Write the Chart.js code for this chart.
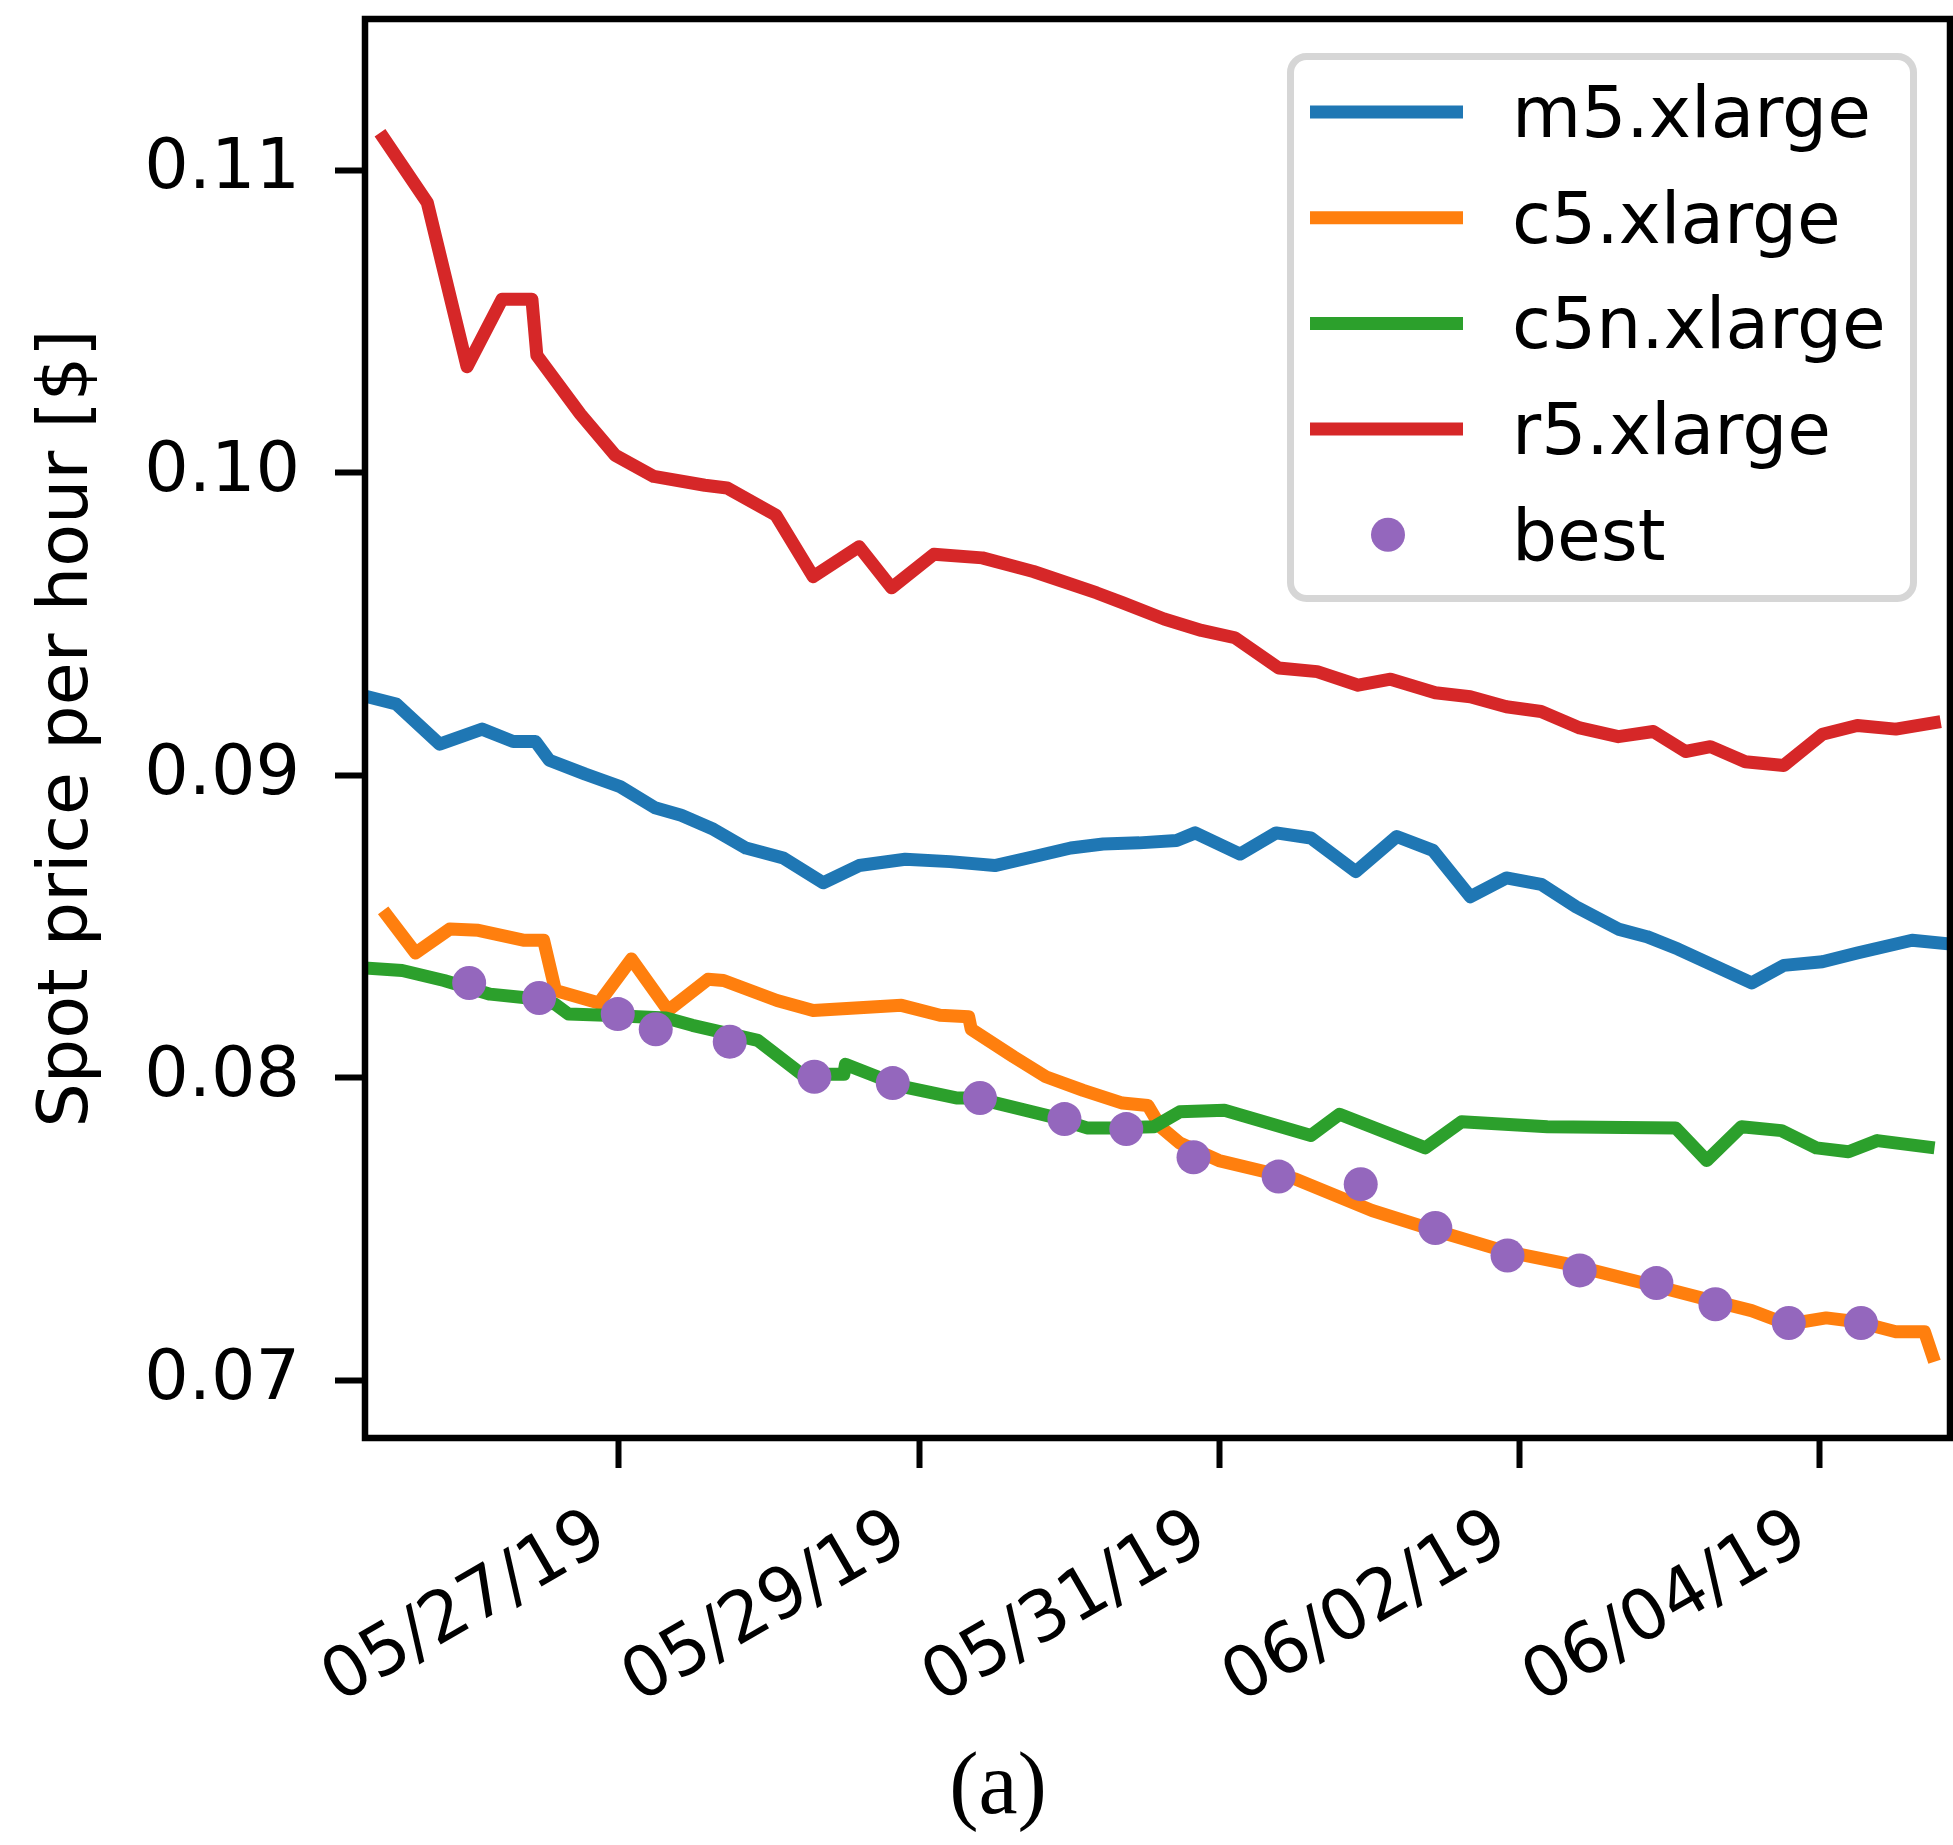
<!DOCTYPE html>
<html>
<head>
<meta charset="utf-8">
<title>Spot price per hour</title>
<script src="https://cdn.jsdelivr.net/npm/chart.js@4.4.0/dist/chart.umd.min.js"></script>
<style>
  html, body { margin: 0; padding: 0; background: #fff; overflow: hidden; }
  #wrap { width: 1953px; height: 1845px; }
</style>
</head>
<body>
<div id="wrap"><canvas id="spot" width="1953" height="1845"></canvas></div>
<script>
// x values are days since 05/27/19 00:00, y values are $/hour
const tickDays = [0, 2, 4, 6, 8];
const tickDates = ['05/27/19', '05/29/19', '05/31/19', '06/02/19', '06/04/19'];
const priceTicks = [0.07, 0.08, 0.09, 0.10, 0.11];

const m5Days = [-1.70, -1.484, -1.194, -0.912, -0.705, -0.556, -0.464, -0.224, 0.008, 0.240, 0.415, 0.630, 0.846, 1.095, 1.360, 1.600, 1.907, 2.206, 2.504, 2.761, 3.010, 3.226, 3.466, 3.715, 3.839, 4.138, 4.378, 4.610, 4.909, 5.182, 5.423, 5.672, 5.912, 6.144, 6.376, 6.658, 6.849, 7.056, 7.546, 7.761, 8.018, 8.250, 8.615, 8.88];
const m5Price = [0.09263, 0.09236, 0.09103, 0.09153, 0.09112, 0.09112, 0.09050, 0.09004, 0.08963, 0.08893, 0.08868, 0.08822, 0.08760, 0.08727, 0.08645, 0.08702, 0.08723, 0.08715, 0.08702, 0.08731, 0.08760, 0.08773, 0.08777, 0.08785, 0.08810, 0.08740, 0.08810, 0.08793, 0.08682, 0.08798, 0.08752, 0.08599, 0.08661, 0.08640, 0.08566, 0.08492, 0.08467, 0.08426, 0.08314, 0.08372, 0.08384, 0.08413, 0.08455, 0.08442];

const c5Days = [-1.571, -1.355, -1.128, -0.937, -0.630, -0.502, -0.423, -0.133, 0.083, 0.328, 0.593, 0.697, 1.053, 1.294, 1.882, 2.139, 2.330, 2.347, 2.629, 2.844, 3.093, 3.354, 3.524, 3.607, 3.736, 3.997, 4.502, 5.017, 5.439, 5.912, 6.294, 6.891, 7.313, 7.546, 7.786, 8.043, 8.250, 8.507, 8.698, 8.765];
const c5Price = [0.08554, 0.08413, 0.08492, 0.08488, 0.08455, 0.08455, 0.08289, 0.08248, 0.08393, 0.08223, 0.08326, 0.08322, 0.08256, 0.08223, 0.08240, 0.08207, 0.08202, 0.08161, 0.08070, 0.08004, 0.07959, 0.07917, 0.07909, 0.07839, 0.07785, 0.07727, 0.07667, 0.07562, 0.07496, 0.07426, 0.07388, 0.07314, 0.07260, 0.07231, 0.07186, 0.07207, 0.07194, 0.07161, 0.07161, 0.07062];

const c5nDays = [-1.70, -1.444, -1.165, -0.859, -0.605, -0.426, -0.336, -0.093, 0.313, 0.489, 0.925, 1.219, 1.498, 1.509, 1.891, 2.247, 2.371, 2.882, 3.118, 3.292, 3.566, 3.736, 4.034, 4.610, 4.801, 5.373, 5.614, 6.186, 7.040, 7.247, 7.479, 7.745, 7.977, 8.192, 8.383, 8.765];
const c5nPrice = [0.08364, 0.08355, 0.08322, 0.08277, 0.08264, 0.08244, 0.08211, 0.08207, 0.08198, 0.08174, 0.08124, 0.08012, 0.08012, 0.08045, 0.07971, 0.07934, 0.07934, 0.07872, 0.07835, 0.07835, 0.07839, 0.07888, 0.07893, 0.07810, 0.07880, 0.07769, 0.07855, 0.07839, 0.07835, 0.07727, 0.07839, 0.07826, 0.07769, 0.07756, 0.07793, 0.07769];

const r5Days = [-1.592, -1.277, -1.012, -0.779, -0.580, -0.547, -0.257, -0.025, 0.232, 0.572, 0.721, 1.045, 1.294, 1.600, 1.816, 2.098, 2.421, 2.761, 3.184, 3.358, 3.632, 3.881, 4.104, 4.395, 4.652, 4.925, 5.141, 5.439, 5.672, 5.912, 6.144, 6.401, 6.658, 6.891, 7.106, 7.272, 7.504, 7.761, 8.018, 8.250, 8.507, 8.806];
const r5Price = [0.11124, 0.10893, 0.10351, 0.10574, 0.10574, 0.10388, 0.10194, 0.10058, 0.09988, 0.09959, 0.09950, 0.09860, 0.09657, 0.09756, 0.09620, 0.09731, 0.09719, 0.09674, 0.09603, 0.09570, 0.09517, 0.09479, 0.09455, 0.09355, 0.09343, 0.09298, 0.09318, 0.09273, 0.09260, 0.09227, 0.09211, 0.09157, 0.09128, 0.09145, 0.09079, 0.09095, 0.09045, 0.09033, 0.09136, 0.09165, 0.09153, 0.09178];

// cheapest instance picked at each decision time
const bestDays = [-0.998, -0.532, -0.008, 0.245, 0.738, 1.302, 1.824, 2.405, 2.968, 3.380, 3.828, 4.395, 4.942, 5.439, 5.920, 6.401, 6.912, 7.305, 7.794, 8.275];
const bestPrice = [0.08314, 0.08264, 0.08211, 0.08161, 0.08120, 0.08004, 0.07983, 0.07934, 0.07864, 0.07831, 0.07738, 0.07674, 0.07649, 0.07504, 0.07413, 0.07364, 0.07322, 0.07252, 0.07190, 0.07190];

const FONT = "'DejaVu Sans', sans-serif";
Chart.defaults.font.family = FONT;
Chart.defaults.color = '#000';

const pts = (xs, ys) => xs.map((x, i) => ({ x: x, y: ys[i] }));

function priceLine(label, days, price, color, order) {
  return {
    label: label,
    data: pts(days, price),
    borderColor: color,
    backgroundColor: color,
    borderWidth: 13,
    borderJoinStyle: 'round',
    borderCapStyle: 'butt',
    pointRadius: 0,
    tension: 0,
    clip: 0,
    order: order
  };
}

const datasets = [
  priceLine('m5.xlarge', m5Days, m5Price, '#1f77b4', 4),
  priceLine('c5.xlarge', c5Days, c5Price, '#ff7f0e', 3),
  priceLine('c5n.xlarge', c5nDays, c5nPrice, '#2ca02c', 2),
  priceLine('r5.xlarge', r5Days, r5Price, '#d62728', 1),
  {
    label: 'best',
    data: pts(bestDays, bestPrice),
    showLine: false,
    pointRadius: 17,
    pointBorderWidth: 0,
    pointBackgroundColor: '#9467bd',
    backgroundColor: '#9467bd',
    order: 0
  }
];

// Axes frame, boxed legend and the "(a)" caption
const decorations = {
  id: 'decorations',
  afterLayout(chart) {
    // plot box runs to 3px from the right edge of the canvas
    const a = chart.chartArea;
    const x = chart.scales.x;
    const right = chart.width - 3;
    a.right = right;
    a.width = right - a.left;
    x.right = right;
    x.width = right - x.left;
    x.configure();
  },
  afterDatasetsDraw(chart) {
    const ctx = chart.ctx;
    const a = chart.chartArea;
    ctx.save();

    ctx.strokeStyle = '#000';
    ctx.lineWidth = 6.5;
    ctx.strokeRect(a.left, a.top, a.right - a.left, a.bottom - a.top);

    // legend box
    const bx = a.right - 663, by = a.top + 34, bw = 630, bh = 549;
    ctx.beginPath();
    ctx.roundRect(bx + 3.5, by + 3.5, bw - 7, bh - 7, 16);
    ctx.fillStyle = 'rgba(255,255,255,0.8)';
    ctx.fill();
    ctx.lineWidth = 7;
    ctx.strokeStyle = '#d6d6d6';
    ctx.stroke();

    ctx.font = '71px ' + FONT;
    ctx.textAlign = 'left';
    ctx.textBaseline = 'alphabetic';
    chart.data.datasets.forEach((ds, i) => {
      const y = by + 59 + i * 105.7;
      if (ds.showLine === false) {
        ctx.beginPath();
        ctx.arc(bx + 101, y, 17, 0, Math.PI * 2);
        ctx.fillStyle = ds.pointBackgroundColor;
        ctx.fill();
      } else {
        ctx.beginPath();
        ctx.moveTo(bx + 23, y);
        ctx.lineTo(bx + 176, y);
        ctx.lineWidth = ds.borderWidth;
        ctx.lineCap = 'butt';
        ctx.strokeStyle = ds.borderColor;
        ctx.stroke();
      }
      ctx.fillStyle = '#000';
      ctx.fillText(ds.label, bx + 225, y + 25);
    });
    ctx.restore();
  },
  afterDraw(chart) {
    const ctx = chart.ctx;
    ctx.save();
    ctx.fillStyle = '#000';
    ctx.font = "88px 'Liberation Serif', 'Times New Roman', serif";
    ctx.textAlign = 'center';
    ctx.textBaseline = 'alphabetic';
    ctx.fillText('(a)', 998, 1813);
    ctx.restore();
  }
};

// keep the plot box at a fixed place: no extra room for label overhang
function noOverhang(scale) {
  scale.paddingTop = 0;
  scale.paddingBottom = 0;
  scale.paddingLeft = 0;
  scale.paddingRight = 0;
  scale._calculatePadding = function() {};
}

function fixBox(width, height) {
  return function(scale) {
    if (width !== null) scale.width = width;
    if (height !== null) scale.height = height;
    scale.paddingTop = 0;
    scale.paddingBottom = 0;
    scale.paddingLeft = 0;
    scale.paddingRight = 0;
  };
}

new Chart(document.getElementById('spot'), {
  type: 'line',
  data: { datasets: datasets },
  plugins: [decorations],
  options: {
    responsive: false,
    devicePixelRatio: 1,
    animation: false,
    events: [],
    layout: { padding: { left: 0, top: 19, right: 3, bottom: 0 } },
    plugins: {
      legend: { display: false },
      tooltip: { enabled: false }
    },
    scales: {
      x: {
        type: 'linear',
        min: -1.692,
        max: 8.868,
        afterBuildTicks: scale => { scale.ticks = tickDays.map(v => ({ value: v })); },
        beforeFit: noOverhang,
        afterFit: fixBox(null, 407),
        border: { display: false },
        grid: {
          drawOnChartArea: false,
          drawTicks: true,
          tickLength: 30,
          tickWidth: 6,
          tickColor: '#000'
        },
        ticks: {
          minRotation: 30,
          maxRotation: 30,
          padding: 26,
          labelOffset: -17,
          color: '#000',
          font: { size: 70 },
          callback: (v, i) => tickDates[i]
        }
      },
      y: {
        type: 'linear',
        min: 0.0681,
        max: 0.1150,
        afterBuildTicks: scale => { scale.ticks = priceTicks.map(v => ({ value: v })); },
        beforeFit: noOverhang,
        afterFit: fixBox(365, null),
        border: { display: false },
        grid: {
          drawOnChartArea: false,
          drawTicks: true,
          tickLength: 30,
          tickWidth: 6,
          tickColor: '#000'
        },
        ticks: {
          padding: 35,
          color: '#000',
          font: { size: 70 },
          callback: v => v.toFixed(2)
        },
        title: {
          display: true,
          text: 'Spot price per hour [$]',
          color: '#000',
          font: { size: 70, lineHeight: 1.2 },
          padding: { top: 27, bottom: 0 }
        }
      }
    }
  }
});
</script>
</body>
</html>
